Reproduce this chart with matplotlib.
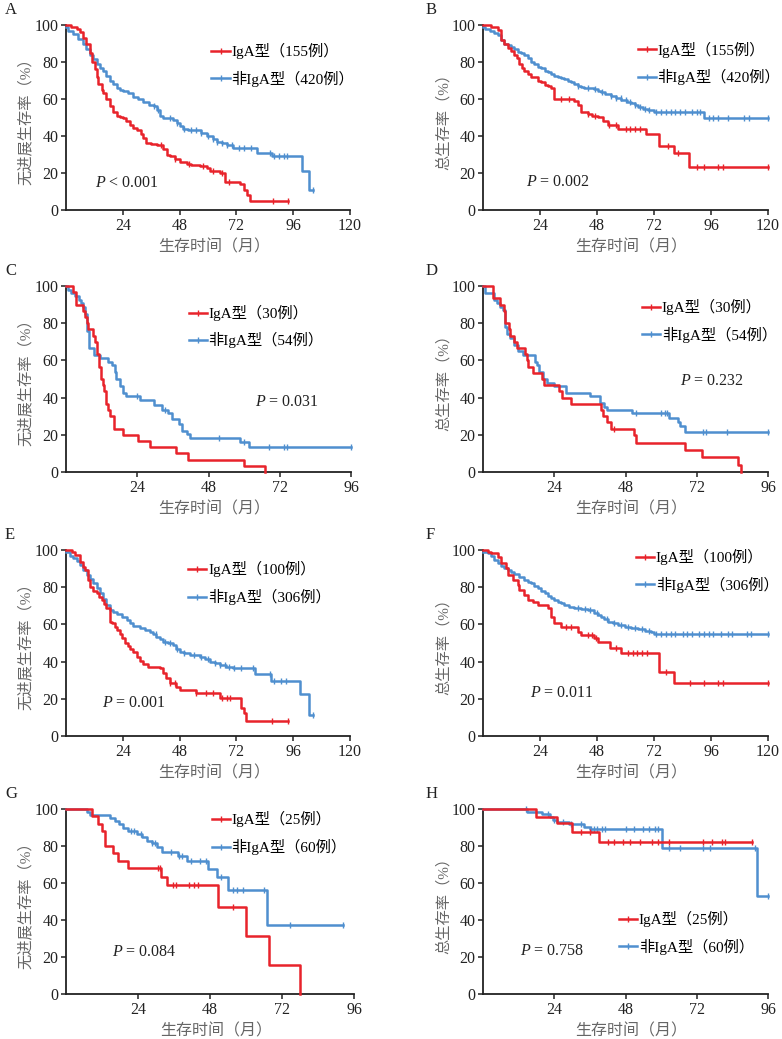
import numpy as np
import matplotlib
matplotlib.use('Agg')
import matplotlib.pyplot as plt
from matplotlib.lines import Line2D

plt.rcParams.update({
    'font.family': ['Liberation Serif', 'Noto Sans CJK SC'],
    'mathtext.fontset': 'custom',
    'mathtext.rm': 'Liberation Serif',
    'mathtext.it': 'Liberation Serif:italic',
    'axes.spines.top': False,
    'axes.spines.right': False,
})

RED = '#E8232B'
BLUE = '#4F8FCF'

# ---------------- data (months, survival %) ----------------
# A: PFS, IgA 155 vs non-IgA 420
a_red_t = [0, 2, 4.5, 6, 7.3, 8.5, 10, 11, 12.3, 13, 13.7, 15, 15.8, 17, 18.6, 20, 21.4, 23, 24.2, 25.5,
           27, 28.5, 30, 31.5, 32.7, 34, 36, 38.3, 41, 42.5, 44, 46, 48, 51, 53, 56.6, 59.4, 61, 65, 67,
           73.5, 75, 76.3, 77.7, 94]
a_red_s = [100, 99, 98, 96, 93, 90, 85, 80, 76, 72, 68, 65, 63, 60, 56, 53, 51, 50.5, 50, 48,
           46, 44.5, 43, 41, 39, 36, 35.5, 35, 33, 30, 29, 27.5, 26, 25, 24.5, 24, 22.5, 21, 20, 15,
           14, 11, 8, 5, 5]
a_red_c = [40, 46, 52, 58, 62, 66, 69, 87.5, 94]
a_blue_t = [0, 1, 3, 5, 7.3, 8.5, 10, 11.5, 13, 14.5, 15.8, 17, 18.6, 20, 21.4, 23, 24.2, 26, 28.5, 30.5,
            32.7, 35, 37, 38.5, 39.7, 41, 42.5, 45, 46.8, 48, 49.6, 51.5, 53.8, 57, 59.4, 62, 63.7, 66, 68,
            70.7, 80.6, 87, 99.7, 102.5, 104.5]
a_blue_s = [99, 97, 95, 92.5, 90, 87, 84, 81.5, 79, 77, 75, 72.5, 70, 68, 66, 65, 64.5, 63, 61, 60,
            58.5, 57, 56, 54, 51, 50, 49.5, 48.5, 47, 45.5, 44, 43.5, 43, 41.5, 40, 38.5, 37, 36, 35,
            33.5, 30.6, 29, 21, 11, 11]
a_blue_c = [37, 39, 44, 47, 50, 53, 55, 57, 60, 62, 64, 66, 68, 70, 73, 75, 78, 86, 88, 90, 92, 93.5, 104.5]

# B: OS, IgA 155 vs non-IgA 420
b_red_t = [0, 3.4, 6.2, 7.6, 9, 10.4, 11.8, 13.2, 14.3, 15.3, 16.5, 17.4, 18.8, 20.2, 23, 24.5, 25.9,
           27.5, 28.7, 30, 38.5, 40, 41.3, 44, 46, 48.3, 50.5, 52.5, 56.8, 68.7, 74, 80.3, 86.7, 120]
b_red_s = [100, 99, 97.5, 92, 90, 87.4, 86, 84, 82, 79, 77, 75, 73.5, 72, 70, 69, 67.7,
           67, 66, 60, 59, 57, 53, 52, 51, 50.5, 48, 46, 44, 41, 34.5, 31, 23.3, 23.3]
b_red_c = [33, 36, 44, 47, 53, 56, 60, 62, 64, 66, 78, 82, 90, 93, 99, 101, 120]
b_blue_t = [0, 1, 3, 4.8, 6.2, 7.6, 9, 10.4, 11.8, 13.2, 14.6, 16, 17.4, 18.8, 20.2, 21.6, 23, 24.5,
            25.9, 27.3, 28.7, 30, 31.5, 33, 34.3, 35.7, 37.1, 38.5, 39.9, 41.3, 42.7, 45, 46.9, 48.3,
            49.7, 51.5, 54, 56, 58.2, 60.5, 62.4, 64, 65.2, 67.5, 69.4, 72.2, 92.9, 120]
b_blue_s = [99, 98, 97, 95.5, 94.6, 92, 90, 89, 88, 87, 85.6, 85, 84, 82, 80, 79, 77.5, 76.5,
            75.4, 74.5, 73.6, 72.5, 71.8, 71.2, 70.7, 70, 69, 68, 67, 66.5, 66, 65.7, 65.4, 64.5,
            63.6, 62.5, 61.5, 60.5, 59.6, 58.5, 57.8, 56.8, 55.7, 54.8, 53.9, 53, 50, 50]
b_blue_c = [40, 44, 47, 50, 54, 56, 58, 60, 62, 64, 66, 68, 70, 73, 75, 77, 79, 81, 83, 85, 88, 90,
            91.5, 95, 97, 99, 103, 110, 112, 120]

# C: PFS, IgA 30 vs non-IgA 54
c_red_t = [0, 2.2, 3.4, 5.8, 6.5, 7.2, 7.5, 9, 9.6, 10.3, 11.2, 11.8, 12.3, 12.8, 13.5, 14, 14.8, 16,
           19.3, 24.4, 28.3, 37, 41, 60, 66.9]
c_red_s = [100, 96.7, 90, 86.7, 83.3, 80, 76.7, 73.3, 70, 63.3, 56.7, 50, 46.7, 43.3, 36.7, 33.3, 30,
           23.3, 20, 16.7, 13.3, 10, 6.7, 3.3, 0]
c_red_c = []
c_blue_t = [0, 0.8, 1.6, 3, 4.5, 5, 5.8, 6.4, 7.2, 7.6, 9.4, 11.5, 14.3, 15.4, 16.5, 17, 18.2, 19.3,
            20.2, 25, 29.5, 32.3, 34.5, 35.6, 37.9, 39, 40.7, 41.6, 58.5, 61.5, 96]
c_blue_s = [100, 98.1, 96.3, 94.4, 92.6, 90.7, 88.9, 85.2, 75.9, 66.7, 63, 61.1, 59.3, 57.4, 53.7, 50,
            46.3, 42.6, 40.7, 38.9, 36.1, 33.3, 31.5, 28.7, 25.9, 22.2, 20.4, 18.5, 16.2, 13.6, 13.6]
c_blue_c = [23.8, 33.5, 51.7, 59.8, 68.5, 73.5, 74.6, 96]

# D: OS, IgA 30 vs non-IgA 54
d_red_t = [0, 3.4, 5.8, 7.2, 7.5, 8.7, 9, 10.3, 11.5, 14.3, 14.8, 15, 17, 19.9, 20.5, 25.5, 26.6,
           29.5, 39.6, 40.3, 41.6, 43.2, 51, 51.7, 68.2, 73.8, 86, 86.8]
d_red_s = [100, 93.3, 90, 86.7, 80, 76.7, 73.3, 70, 66.7, 63.3, 60, 56.7, 53.3, 50, 46.7, 43.3, 40,
           36.7, 33.3, 30, 26.7, 23.3, 20, 15.6, 11.7, 7.8, 3.9, 0]
d_red_c = [44]
d_blue_t = [0, 0.6, 3.6, 4.7, 5.8, 6.7, 7.5, 8.1, 9.2, 10.3, 11.8, 13.5, 17.4, 18.2, 19, 20.2, 21.6,
            23.8, 27.8, 36.2, 39.3, 40.6, 41.8, 50.2, 62.6, 65.6, 66.2, 68.2, 96]
d_blue_s = [100, 96.3, 92.6, 90.7, 88.9, 87, 77.8, 74.1, 72.2, 68.5, 64.8, 63, 59.3, 57.4, 53.7, 50,
            48.1, 46.3, 42.6, 40.7, 37, 35.2, 33.3, 31.5, 29.2, 26.9, 24.6, 21.3, 21.3]
d_blue_c = [51.4, 60, 61.2, 62, 74, 75.2, 82.3, 96]

# E: PFS, IgA 100 vs non-IgA 306
e_red_t = [0, 2.4, 3.8, 5.9, 7, 8, 9.4, 10.1, 11.5, 12.9, 14, 15, 16, 17.1, 18.5, 19.5, 20.6, 21.7,
           22.8, 23.8, 24.9, 26, 27, 28.4, 29.8, 31.2, 32.6, 34.7, 39.6, 41, 42.4, 43.8, 46.6, 48, 55,
           64.9, 74, 75.2, 76.2, 93.7]
e_red_s = [100, 99, 97.3, 93.7, 91, 89, 84, 80, 78, 76.7, 75, 73, 71, 68.6, 61.5, 60.5, 58.8, 57,
           55, 52.5, 49.8, 48.5, 47, 45, 42.7, 40.5, 38.7, 37.3, 36.4, 33.7, 31, 28.3, 26.5, 24.7, 23,
           20.6, 14.9, 12.2, 8.3, 8.3]
e_red_c = [44, 46, 55, 59, 62, 66, 68, 69.5, 87, 93.7]
e_blue_t = [0, 1.5, 3.1, 4.5, 5.9, 7.3, 8.7, 10, 11.5, 12.9, 14.3, 15.7, 17.1, 18.5, 20, 21.4, 23.5,
            25.6, 27, 28.4, 31.2, 33.3, 35.4, 36.8, 38.2, 39.6, 41, 43, 45.2, 46.6, 48, 50, 52.3, 56.5,
            58.6, 60.7, 62.8, 64.9, 67.7, 70.5, 79.7, 86.7, 99, 102.6, 104.3]
e_blue_s = [99, 97, 95.5, 94, 92, 89.5, 86.6, 84.5, 82, 79.5, 76.7, 73.5, 70.4, 67.7, 66.5, 65.4, 64,
            62.4, 60.5, 59, 57.9, 57, 56, 55, 53.4, 52, 50.7, 50, 49, 47, 45.3, 44.5, 43.5, 42.7,
            41.5, 40, 39, 38.2, 37.2, 36.4, 33.3, 29.7, 22.6, 11.3, 11.3]
e_blue_c = [38, 42, 44, 47, 50, 54, 57, 60, 63, 65, 67, 69, 71, 74, 79, 86, 88, 91, 93, 104.3]

# F: OS, IgA 100 vs non-IgA 306
f_red_t = [0, 2, 3.4, 6.2, 7.6, 9.7, 10.7, 12.5, 14.6, 15.3, 17.4, 18.8, 21, 23, 27.3, 28.7, 30.1,
           32.9, 39.9, 41.3, 46.9, 48.3, 53.3, 58.2, 74, 80.3, 120]
f_red_s = [100, 99, 98.2, 96.4, 92.8, 90.1, 86.6, 83.9, 81.2, 78.5, 75.8, 73.1, 72, 70.4, 68.6, 64.2,
           60.6, 58.8, 56, 54.3, 52.5, 50.7, 47.1, 44.4, 34.6, 28.7, 28.7]
f_red_c = [35, 37, 44, 46, 47.5, 56, 61, 63, 65, 67, 69, 77, 87, 93, 99, 101, 120]
f_blue_t = [0, 2, 3.4, 4.8, 6.2, 7.6, 9, 10.4, 11.8, 13.2, 15.3, 17.4, 18.8, 20.2, 21.6, 23, 24.5,
            25.9, 27.3, 28.7, 30.1, 31.5, 32.9, 34.3, 36.4, 38.5, 41.3, 44.1, 46.9, 48.3, 49.7, 51.1,
            52.5, 54.7, 56.8, 59.6, 62.4, 65.2, 68, 70.8, 72.2, 120]
f_blue_s = [99, 98.2, 97, 94.6, 93, 91.4, 90.3, 89.2, 88.2, 87.1, 85.5, 83.9, 83, 82, 80.8, 79.4, 78,
            76.7, 75.4, 74, 73, 72.2, 71.5, 70.4, 69.5, 68.6, 68.2, 67.7, 65.9, 65, 64.2, 62.8, 61.5,
            60.5, 59.7, 58.8, 58, 57.3, 56.6, 56, 54.8, 54.8]
f_blue_c = [40, 43, 45, 48, 52, 55, 58, 61, 64, 67, 70, 73, 75, 77, 79, 81, 84, 86, 88, 91, 93, 95,
            97, 100, 103, 105, 111, 113, 120]

# G: PFS, IgA 25 vs non-IgA 60
g_red_t = [0, 8.6, 10.6, 11.9, 13.1, 15.8, 17.4, 20.8, 31.7, 33.6, 50.6, 60, 67.5, 78]
g_red_s = [100, 96, 92, 88, 80, 76, 72, 68, 63.5, 59, 47, 31.5, 15.7, 0]
g_red_c = [30.5, 31.2, 35.5, 36.5, 41, 42.5, 44, 55.5]
g_blue_t = [0, 6.9, 8, 14.7, 16.3, 17.5, 19.1, 20.8, 23.5, 25.2, 26.9, 28.5, 30.2, 31.9, 37.2, 40.2,
            47.2, 50.2, 54.1, 66.9, 92.4]
g_blue_s = [100, 98.3, 96.6, 95, 93.3, 91.7, 90, 88.3, 86.7, 85, 82.7, 81.5, 79.7, 77, 74.6, 72,
            67.5, 63.5, 56.3, 37.4, 37.4]
g_blue_c = [21.5, 22.5, 25, 28.5, 29.5, 35, 37.8, 38.5, 41.5, 44.5, 46.5, 51.5, 55.5, 57, 59, 66,
            74.5, 92.4]

# H: OS, IgA 25 vs non-IgA 60
h_red_t = [0, 18, 25, 30, 39, 90.7]
h_red_s = [100, 95.9, 92.3, 87.8, 82.4, 82.4]
h_red_c = [33, 36, 42, 44, 47, 49.5, 53, 57, 59, 62.5, 74, 77, 80.5, 81.5, 90.7]
h_blue_t = [0, 14.8, 19.9, 22.7, 23.5, 25, 28.9, 34, 36.2, 60.4, 92.4, 96]
h_blue_s = [100, 98.6, 97.1, 95.5, 94, 92.8, 91.7, 90.5, 89.2, 79.1, 53, 53]
h_blue_c = [14.5, 22, 24, 27, 29.5, 33, 36.5, 37.5, 38.5, 40, 41, 48, 51, 54, 56, 58, 59, 62.5,
            66.5, 74, 76.5, 91.5, 96]

letters = ['A', 'B', 'C', 'D', 'E', 'F', 'G', 'H']
xmax = [120, 120, 96, 96, 120, 120, 96, 96]
ylabels = ['无进展生存率（%）', '总生存率（%）'] * 4
red_labels = ['IgA型（155例）', 'IgA型（155例）', 'IgA型（30例）', 'IgA型（30例）',
              'IgA型（100例）', 'IgA型（100例）', 'IgA型（25例）', 'IgA型（25例）']
blue_labels = ['非IgA型（420例）', '非IgA型（420例）', '非IgA型（54例）', '非IgA型（54例）',
               '非IgA型（306例）', '非IgA型（306例）', '非IgA型（60例）', '非IgA型（60例）']
p_texts = ['< 0.001', '= 0.002', '= 0.031', '= 0.232', '= 0.001', '= 0.011', '= 0.084', '= 0.758']

curves = [
    (a_red_t, a_red_s, a_red_c, a_blue_t, a_blue_s, a_blue_c),
    (b_red_t, b_red_s, b_red_c, b_blue_t, b_blue_s, b_blue_c),
    (c_red_t, c_red_s, c_red_c, c_blue_t, c_blue_s, c_blue_c),
    (d_red_t, d_red_s, d_red_c, d_blue_t, d_blue_s, d_blue_c),
    (e_red_t, e_red_s, e_red_c, e_blue_t, e_blue_s, e_blue_c),
    (f_red_t, f_red_s, f_red_c, f_blue_t, f_blue_s, f_blue_c),
    (g_red_t, g_red_s, g_red_c, g_blue_t, g_blue_s, g_blue_c),
    (h_red_t, h_red_s, h_red_c, h_blue_t, h_blue_s, h_blue_c),
]

# layout (pixels of the 782x1039 canvas)
W, H = 782, 1039
ax_left = [66, 483]
ax_right = [[350, 768], [351, 768], [350, 768], [354, 768]]
ax_top = [25, 286, 550, 809]
ax_bot = [210, 472, 736, 994]
ylab_x = [25, 444]
# legend anchor (axes fraction: handle start x, first row centre y), P text (data coords)
leg_pos = [(0.512, 0.847), (0.543, 0.856), (0.43, 0.844), (0.558, 0.875),
           (0.43, 0.884), (0.537, 0.95), (0.506, 0.932), (0.477, 0.394)]
p_pos = [(12.3, 14.4), (18.1, 15.1), (63.7, 37.5), (66.5, 49),
         (15, 17.6), (20, 23), (15.2, 22.5), (12.4, 23.4)]


def km(ax, t, s, c, color):
    t = np.asarray(t, float)
    s = np.asarray(s, float)
    ax.step(t, s, where='post', color=color, lw=1.8, clip_on=False, zorder=3)
    if len(c):
        c = np.asarray(c, float)
        idx = np.searchsorted(t, c, side='right') - 1
        ax.plot(c, s[idx], ls='none', marker='|', ms=4, mew=1.0, color=color,
                clip_on=False, zorder=3)


fig = plt.figure(figsize=(W / 100, H / 100), dpi=100)

for i in range(8):
    row, col = divmod(i, 2)
    l = ax_left[col]
    r = ax_right[row][col]
    ax = fig.add_axes([l / W, 1 - ax_bot[row] / H, (r - l) / W, (ax_bot[row] - ax_top[row]) / H])
    rt, rs, rc, bt, bs, bc = curves[i]
    km(ax, bt, bs, bc, BLUE)
    km(ax, rt, rs, rc, RED)

    ax.set_xlim(0, xmax[i])
    ax.set_ylim(0, 100)
    ax.set_xticks(np.arange(24, xmax[i] + 1, 24))
    ax.set_yticks(np.arange(0, 101, 20))
    ax.tick_params(direction='out', length=3.5, width=1.1, labelsize=11.5, colors='#222222', pad=2)
    for sp in ('left', 'bottom'):
        ax.spines[sp].set_linewidth(1.3)
        ax.spines[sp].set_color('#222222')

    ax.set_ylabel(ylabels[i], fontsize=11, color='#666666')
    ax.yaxis.set_label_coords((ylab_x[col] - l) / (r - l), 0.5)
    ax.yaxis.label.set_va('center')
    ax.set_xlabel('生存时间（月）', fontsize=11.5, color='#666666')
    ax.xaxis.set_label_coords(0.52, -0.2)
    ax.xaxis.label.set_va('center')

    lx, ly = leg_pos[i]
    handles = [Line2D([], [], color=RED, lw=1.8, marker='|', ms=4, mew=1.0),
               Line2D([], [], color=BLUE, lw=1.8, marker='|', ms=4, mew=1.0)]
    ax.legend(handles, [red_labels[i], blue_labels[i]], loc='upper left',
              bbox_to_anchor=(lx, ly + 0.055), frameon=False, fontsize=11,
              handlelength=1.2, handletextpad=0.1, labelspacing=0.75,
              borderpad=0, borderaxespad=0, numpoints=1)

    px, py = p_pos[i]
    ax.text(px, py, r'$P$ ' + p_texts[i], fontsize=11.5, va='center', ha='left', color='#222222')

    fig.text((5 if col == 0 else 426) / W, 1 - (ax_top[row] - 15) / H, letters[i],
             fontsize=12, va='center', ha='left', color='#222222')

fig.savefig('out.png', dpi=100, facecolor='white')
